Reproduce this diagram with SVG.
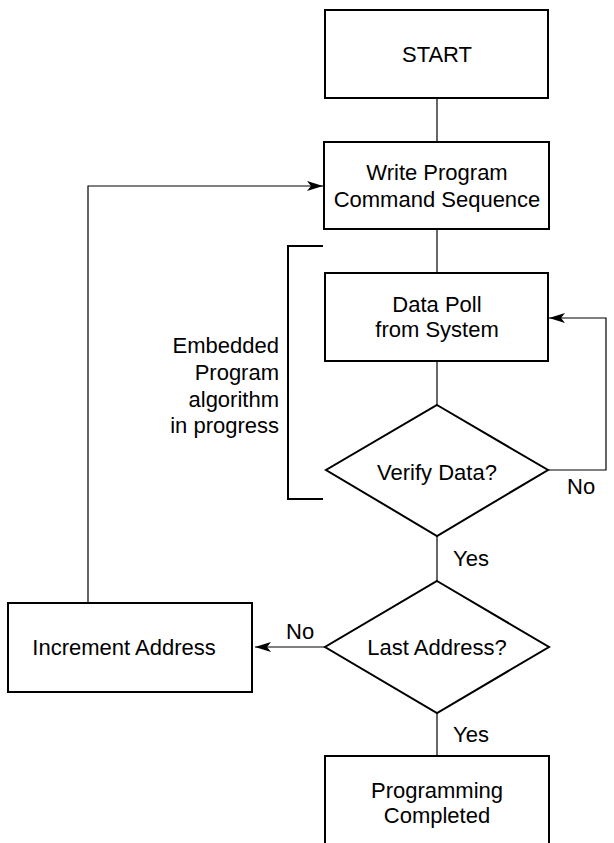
<svg xmlns="http://www.w3.org/2000/svg" width="614" height="843" viewBox="0 0 614 843">
<style>
.box{fill:#fff;stroke:#000;stroke-width:2}
.conn{fill:none;stroke:#000;stroke-width:1.2}
.br{fill:none;stroke:#000;stroke-width:2}
text{font-family:"Liberation Sans",Arial,sans-serif;font-size:22px;fill:#000}
.c{text-anchor:middle}
.r{text-anchor:end}
</style>
<defs>
<marker id="arr" viewBox="0 0 16 10" refX="16" refY="5" markerWidth="16" markerHeight="10" markerUnits="userSpaceOnUse" orient="auto">
<path d="M0,0 L16,5 L0,10 L4,5 Z" fill="#000"/>
</marker>
</defs>
<rect width="614" height="843" fill="#fff"/>
<g id="connectors">
<line class="conn" x1="437" y1="98" x2="437" y2="142"/>
<line class="conn" x1="437" y1="229" x2="437" y2="273"/>
<line class="conn" x1="437" y1="361" x2="437" y2="405"/>
<line class="conn" x1="437" y1="536" x2="437" y2="581"/>
<line class="conn" x1="437" y1="713" x2="437" y2="756"/>
<path class="conn" d="M548,470 H606 V318 H549" marker-end="url(#arr)"/>
<path class="conn" d="M325,647 H255" marker-end="url(#arr)"/>
<path class="conn" d="M88,603 V186 H323" marker-end="url(#arr)"/>
<text x="567" y="494">No</text>
<text x="453" y="566">Yes</text>
<text x="286" y="639">No</text>
<text x="453" y="742">Yes</text>
</g>
<g id="bracket">
<path class="br" d="M323,246 H288 V499 H323"/>
<text class="r" x="279" y="353">Embedded</text>
<text class="r" x="279" y="380">Program</text>
<text class="r" x="279" y="407">algorithm</text>
<text class="r" x="279" y="433">in progress</text>
</g>
<g id="start">
<rect class="box" x="325" y="10" width="223" height="88"/>
<text class="c" x="437" y="62">START</text>
</g>
<g id="write">
<rect class="box" x="324" y="142" width="225" height="87"/>
<text class="c" x="437" y="180">Write Program</text>
<text class="c" x="437" y="207">Command Sequence</text>
</g>
<g id="poll">
<rect class="box" x="325" y="273" width="223" height="88"/>
<text class="c" x="437" y="312">Data Poll</text>
<text class="c" x="437" y="337">from System</text>
</g>
<g id="verify">
<polygon class="box" points="437,405 548,470 437,536 326,470"/>
<text class="c" x="437" y="480">Verify Data?</text>
</g>
<g id="last">
<polygon class="box" points="437,581 549,647 437,713 325,647"/>
<text class="c" x="437" y="655">Last Address?</text>
</g>
<g id="increment">
<rect class="box" x="8" y="603" width="244" height="89"/>
<text class="c" x="124" y="655">Increment Address</text>
</g>
<g id="done">
<rect class="box" x="325" y="756" width="224" height="100"/>
<text class="c" x="437" y="798">Programming</text>
<text class="c" x="437" y="823">Completed</text>
</g>
</svg>
